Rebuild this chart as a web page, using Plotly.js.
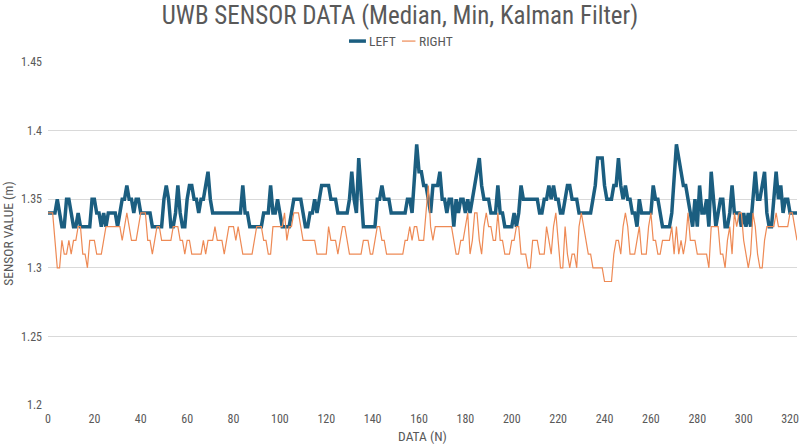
<!DOCTYPE html>
<html><head><meta charset="utf-8">
<script src="https://cdn.plot.ly/plotly-3.0.1.min.js"></script>
<style>html,body{margin:0;padding:0;background:#fff}#c{width:800px;height:447px}</style>
</head><body><div id="c"></div>
<script>
var leftVals = [
1.34,1.34,1.34,1.34,1.35,1.34,1.33,1.33,1.35,1.35,
1.34,1.33,1.33,1.34,1.33,1.33,1.33,1.33,1.33,1.35,
1.35,1.34,1.34,1.33,1.34,1.33,1.34,1.34,1.34,1.34,
1.33,1.34,1.35,1.35,1.36,1.35,1.35,1.34,1.35,1.35,
1.34,1.34,1.34,1.34,1.34,1.33,1.33,1.33,1.33,1.33,
1.35,1.36,1.35,1.33,1.33,1.34,1.36,1.34,1.33,1.33,
1.35,1.36,1.36,1.35,1.35,1.34,1.35,1.35,1.36,1.37,
1.35,1.34,1.34,1.34,1.34,1.34,1.34,1.34,1.34,1.34,
1.34,1.34,1.34,1.34,1.36,1.34,1.34,1.33,1.33,1.33,
1.33,1.33,1.33,1.34,1.34,1.34,1.36,1.34,1.34,1.35,
1.34,1.33,1.33,1.33,1.33,1.34,1.35,1.35,1.35,1.35,
1.34,1.33,1.33,1.34,1.34,1.35,1.34,1.35,1.36,1.36,
1.36,1.36,1.35,1.35,1.35,1.34,1.34,1.34,1.34,1.34,
1.35,1.37,1.35,1.34,1.38,1.35,1.33,1.33,1.33,1.33,
1.33,1.33,1.35,1.35,1.36,1.35,1.35,1.35,1.34,1.34,
1.34,1.34,1.34,1.34,1.34,1.35,1.35,1.34,1.37,1.39,
1.37,1.37,1.36,1.36,1.35,1.34,1.36,1.36,1.36,1.37,
1.35,1.35,1.34,1.35,1.35,1.33,1.35,1.34,1.35,1.35,
1.34,1.35,1.34,1.35,1.36,1.37,1.38,1.36,1.35,1.35,
1.35,1.34,1.34,1.34,1.36,1.34,1.34,1.33,1.33,1.33,
1.33,1.34,1.33,1.34,1.36,1.35,1.35,1.35,1.35,1.35,
1.35,1.35,1.34,1.34,1.35,1.35,1.36,1.35,1.36,1.35,
1.35,1.34,1.34,1.35,1.36,1.36,1.35,1.35,1.35,1.34,
1.34,1.34,1.34,1.34,1.34,1.35,1.36,1.38,1.38,1.38,
1.36,1.35,1.35,1.35,1.36,1.36,1.38,1.36,1.35,1.36,
1.35,1.35,1.34,1.34,1.33,1.35,1.34,1.34,1.34,1.34,
1.34,1.36,1.35,1.35,1.34,1.33,1.33,1.33,1.33,1.34,
1.37,1.39,1.38,1.37,1.36,1.36,1.35,1.34,1.33,1.35,
1.33,1.36,1.34,1.34,1.35,1.33,1.37,1.35,1.33,1.34,
1.35,1.35,1.33,1.33,1.34,1.36,1.34,1.34,1.34,1.33,
1.34,1.33,1.34,1.33,1.35,1.37,1.35,1.35,1.36,1.37,
1.34,1.33,1.33,1.35,1.37,1.35,1.36,1.34,1.35,1.35,
1.34,1.34,1.34,1.34];
var rightVals = [
1.34,1.34,1.34,1.32,1.30,1.30,1.32,1.31,1.31,1.32,
1.31,1.32,1.32,1.33,1.33,1.31,1.31,1.30,1.32,1.32,
1.32,1.31,1.31,1.31,1.32,1.33,1.33,1.33,1.33,1.33,
1.33,1.33,1.32,1.33,1.34,1.33,1.32,1.32,1.32,1.33,
1.34,1.34,1.34,1.32,1.32,1.31,1.32,1.33,1.33,1.32,
1.32,1.32,1.32,1.32,1.33,1.33,1.33,1.32,1.32,1.31,
1.32,1.32,1.31,1.31,1.31,1.31,1.31,1.32,1.31,1.32,
1.32,1.32,1.33,1.32,1.32,1.32,1.31,1.32,1.33,1.33,
1.33,1.32,1.33,1.32,1.31,1.31,1.31,1.31,1.31,1.32,
1.33,1.33,1.33,1.32,1.32,1.31,1.31,1.33,1.33,1.33,
1.33,1.33,1.34,1.32,1.33,1.33,1.34,1.34,1.34,1.33,
1.32,1.32,1.32,1.32,1.32,1.32,1.31,1.31,1.31,1.31,
1.31,1.33,1.32,1.32,1.32,1.31,1.32,1.33,1.33,1.32,
1.31,1.31,1.31,1.31,1.31,1.31,1.32,1.32,1.32,1.31,
1.31,1.32,1.33,1.33,1.32,1.32,1.31,1.31,1.31,1.31,
1.31,1.31,1.31,1.31,1.32,1.32,1.33,1.32,1.33,1.33,
1.32,1.32,1.32,1.34,1.36,1.33,1.32,1.33,1.33,1.33,
1.33,1.33,1.33,1.33,1.33,1.32,1.31,1.31,1.32,1.32,
1.33,1.34,1.31,1.32,1.34,1.34,1.32,1.31,1.33,1.34,
1.33,1.33,1.32,1.32,1.34,1.32,1.32,1.31,1.31,1.31,
1.32,1.32,1.33,1.33,1.31,1.31,1.31,1.30,1.30,1.32,
1.32,1.32,1.31,1.31,1.31,1.33,1.32,1.31,1.33,1.34,
1.32,1.30,1.30,1.33,1.31,1.30,1.31,1.31,1.30,1.33,
1.34,1.33,1.32,1.31,1.31,1.30,1.30,1.30,1.30,1.30,
1.29,1.29,1.29,1.29,1.31,1.32,1.32,1.31,1.33,1.34,
1.33,1.31,1.31,1.31,1.32,1.33,1.31,1.31,1.31,1.33,
1.34,1.32,1.32,1.31,1.31,1.32,1.32,1.32,1.32,1.33,
1.31,1.33,1.31,1.32,1.31,1.32,1.34,1.32,1.32,1.32,
1.31,1.31,1.31,1.31,1.31,1.30,1.33,1.33,1.33,1.33,
1.31,1.31,1.30,1.32,1.33,1.31,1.34,1.33,1.34,1.34,
1.32,1.31,1.30,1.31,1.34,1.33,1.31,1.30,1.30,1.32,
1.33,1.33,1.33,1.33,1.34,1.33,1.33,1.33,1.33,1.33,
1.34,1.34,1.33,1.32];
var seriesNames = ['LEFT', 'RIGHT'];
var xTicks = [0,20,40,60,80,100,120,140,160,180,200,220,240,260,280,300,320];
var yTicks = [1.2,1.25,1.3,1.35,1.4,1.45];
var idx = leftVals.map(function(_, i){ return i; });

var FONT = '"Liberation Sans Narrow", "Roboto Condensed", "DejaVu Sans Condensed", sans-serif';
var GRAY = '#595959';
var BLUE = '#1B5E80', ORANGE = '#EE8A55';

var traces = [
  {x: idx, y: leftVals, type: 'scatter', mode: 'lines', name: seriesNames[0],
   line: {color: BLUE, width: 3.5}, showlegend: false},
  {x: idx, y: rightVals, type: 'scatter', mode: 'lines', name: seriesNames[1],
   line: {color: ORANGE, width: 1.2}, showlegend: false}
];

// compact Excel-style legend (paper coordinates)
var LY = 1.061;
var shapes = [
  {type: 'line', xref: 'paper', yref: 'paper', x0: 0.4019, x1: 0.4245, y0: LY, y1: LY,
   line: {color: BLUE, width: 3.5}},
  {type: 'line', xref: 'paper', yref: 'paper', x0: 0.4726, x1: 0.4906, y0: LY, y1: LY,
   line: {color: ORANGE, width: 1.2}}
];
var annotations = [
  {xref: 'paper', yref: 'paper', x: 0.4265, y: LY, xanchor: 'left', yanchor: 'middle',
   text: seriesNames[0], showarrow: false, font: {family: FONT, size: 13.5, color: GRAY}},
  {xref: 'paper', yref: 'paper', x: 0.4930, y: LY, xanchor: 'left', yanchor: 'middle',
   text: seriesNames[1], showarrow: false, font: {family: FONT, size: 13.5, color: GRAY}}
];

var layout = {
  width: 800, height: 447,
  margin: {l: 48, r: 3, t: 62, b: 42},
  paper_bgcolor: '#fff', plot_bgcolor: '#fff',
  font: {family: FONT, color: GRAY, size: 12},
  title: {text: 'UWB SENSOR DATA (Median, Min, Kalman Filter)', x: 0.5, xanchor: 'center',
          y: 0.965, yanchor: 'middle', font: {family: FONT, size: 25, color: GRAY}},
  showlegend: false,
  shapes: shapes,
  annotations: annotations,
  xaxis: {range: [0, 323], tickvals: xTicks, ticktext: xTicks.map(String),
          showgrid: false, zeroline: false, showline: false, ticks: '',
          ticklabelstandoff: 5,
          tickfont: {family: FONT, size: 12, color: GRAY},
          title: {text: 'DATA (N)', font: {family: FONT, size: 13.5, color: GRAY}, standoff: 6}},
  yaxis: {range: [1.2, 1.45], tickvals: yTicks, ticktext: yTicks.map(String),
          showgrid: true, gridcolor: '#D9D9D9', gridwidth: 1, zeroline: false, showline: false,
          ticks: '', tickfont: {family: FONT, size: 12, color: GRAY}, ticklabelstandoff: 5,
          title: {text: 'SENSOR VALUE (m)', font: {family: FONT, size: 13.5, color: GRAY}, standoff: 6}}
};
Plotly.newPlot('c', traces, layout, {displayModeBar: false, staticPlot: true});
</script></body></html>
